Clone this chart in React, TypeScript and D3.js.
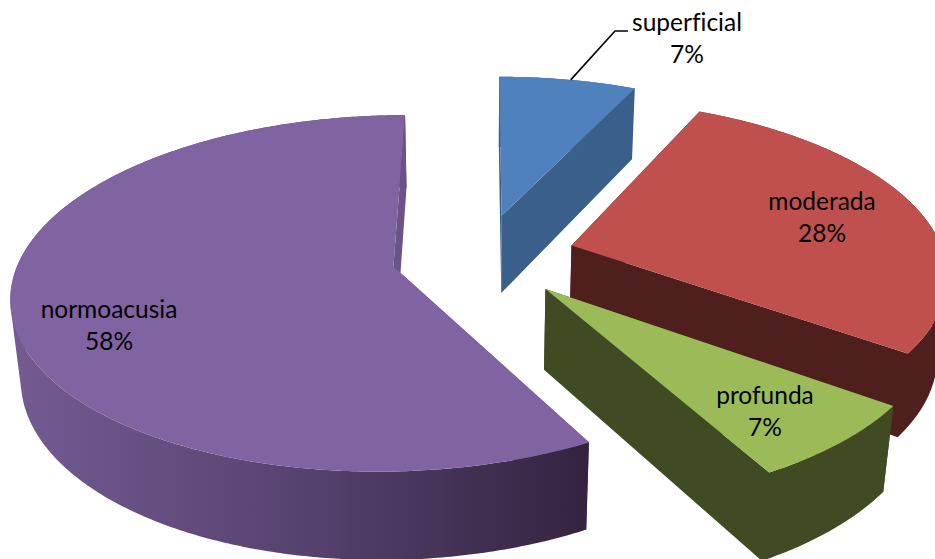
import React from "react";
import * as d3 from "d3";

// Degree of hearing loss, share of cases (%)
const categories = ["superficial", "moderada", "profunda", "normoacusia"];
const shares = [7, 28, 7, 58];
const explosions = [0.25, 0.25, 0.25, 0.243];
const topColors = ["#4F81BD", "#C0504D", "#9BBB59", "#8064A2"];
const wallColors = ["#3A5F8B", "#4F1F1E", "#404B23", "#6A5388"];
const labelCentres: [number, number][] = [[687, 23], [822, 202], [765, 396], [109, 310]];

const WIDTH = 935;
const HEIGHT = 559;

// Perspective camera for the tilted disc
const VANISH_X = 482;
const HORIZON_Y = 256;
const RADIUS_X = 373;
const RADIUS_Y = 171;
const PERSPECTIVE = 0.15;
const DEPTH_SCALE = 0.022;
const THICKNESS = 81;

type Pt = [number, number];

function project(X: number, Y: number, down: number): Pt {
  const w = 1 + PERSPECTIVE * Y + DEPTH_SCALE * down;
  return [
    VANISH_X + (RADIUS_X * X) / w,
    HORIZON_Y + (-RADIUS_Y * Y + THICKNESS * down) / w,
  ];
}

const slices = d3.pie<number>().sort(null).startAngle(0).endAngle(2 * Math.PI)(shares);
const toPath = d3.line<Pt>().curve(d3.curveLinear);

// Closed sub-path with a fixed winding, so overlapping pieces in one path
// add up under the nonzero rule instead of cancelling where the rim folds.
function orientedPath(points: Pt[]): string {
  const ordered = d3.polygonArea(points) < 0 ? [...points].reverse() : points;
  return toPath(ordered)! + "Z";
}

function sliceGeometry(start: number, end: number, explode: number) {
  const mid = (start + end) / 2;
  const ox = explode * Math.sin(mid);
  const oy = explode * Math.cos(mid);
  const rim = (a: number, down: number): Pt =>
    project(ox + Math.sin(a), oy + Math.cos(a), down);
  const apex = (down: number): Pt => project(ox, oy, down);
  const steps = Math.ceil((end - start) / 0.01);
  const angles = d3.range(steps + 1).map((i) => start + ((end - start) * i) / steps);
  const topArc = angles.map((a) => rim(a, 0));
  const rimWall = d3
    .pairs(angles)
    .map(([a, b]) => orientedPath([rim(a, 0), rim(b, 0), rim(b, 1), rim(a, 1)]))
    .join("");
  return {
    top: toPath([apex(0), ...topArc])! + "Z",
    rimWall,
    startWall: orientedPath([apex(0), rim(start, 0), rim(start, 1), apex(1)]),
    endWall: orientedPath([apex(0), rim(end, 0), rim(end, 1), apex(1)]),
    rim,
  };
}

const geometry = slices.map((s, i) => sliceGeometry(s.startAngle, s.endAngle, explosions[i]));
const drawOrder = [3, 0, 1, 2];

export default function App() {
  const anchor = geometry[0].rim(slices[0].startAngle + (slices[0].endAngle - slices[0].startAngle) * 0.52, 0);
  const leader: Pt[] = [anchor, [615, 31], [628, 31]];
  return (
    <svg
      width={WIDTH}
      height={HEIGHT}
      viewBox={`0 0 ${WIDTH} ${HEIGHT}`}
      style={{ position: "fixed", left: 0, top: 0, background: "#fff" }}
    >
      <defs>
        <linearGradient id="wall-normoacusia" gradientUnits="userSpaceOnUse" x1={15} y1={0} x2={590} y2={0}>
          <stop offset="0" stopColor="#735B92" />
          <stop offset="0.5" stopColor="#56426F" />
          <stop offset="1" stopColor="#33233F" />
        </linearGradient>
      </defs>
      {drawOrder.map((i) => {
        const g = geometry[i];
        // The large slice carries a shaded rim and shows its 0° wall in front of it;
        // the others have one flat wall colour, so rim and wall share a single path.
        if (i === 3) {
          return (
            <g key={categories[i]}>
              <path d={g.startWall} fill={wallColors[i]} />
              <path d={g.rimWall} fill="url(#wall-normoacusia)" />
              <path d={g.endWall} fill={wallColors[i]} />
              <path d={g.top} fill={topColors[i]} />
            </g>
          );
        }
        return (
          <g key={categories[i]}>
            <path d={g.startWall} fill={wallColors[i]} />
            <path d={`${g.endWall}${g.rimWall}`} fill={wallColors[i]} />
            <path d={g.top} fill={topColors[i]} />
          </g>
        );
      })}
      <path d={toPath(leader)!} fill="none" stroke="#000" strokeWidth={1.6} />
      {categories.map((c, i) => (
        <text
          key={c}
          textAnchor="middle"
          fontFamily="Lato, sans-serif"
          fontSize={24.5}
          fill="#000"
          style={{ fontVariantLigatures: "none" }}
        >
          <tspan x={labelCentres[i][0]} y={labelCentres[i][1] + 8}>{c}</tspan>
          <tspan x={labelCentres[i][0]} y={labelCentres[i][1] + 40}>{`${shares[i]}%`}</tspan>
        </text>
      ))}
    </svg>
  );
}
